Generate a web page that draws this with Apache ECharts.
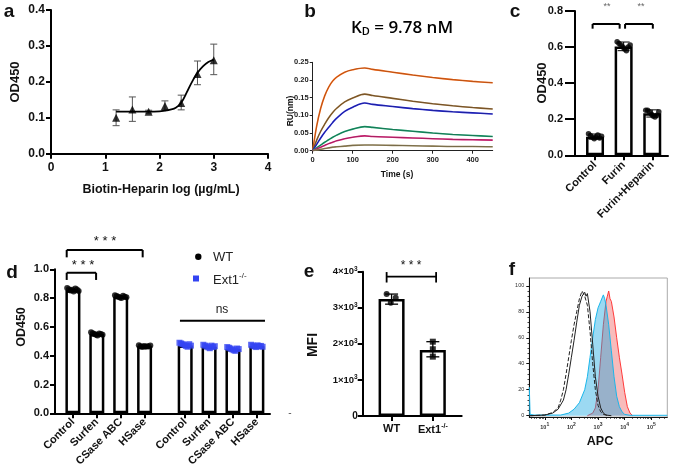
<!DOCTYPE html>
<html><head><meta charset="utf-8">
<script src="https://cdn.jsdelivr.net/npm/echarts@6/dist/echarts.min.js"></script>
<style>html,body{margin:0;padding:0;background:#fff}#c{width:676px;height:473px}</style>
</head><body><div id="c"></div>
<script>
// ===== DATA =====
// panel a
const aLogConc = [1.2, 1.5, 1.8, 2.1, 2.4, 2.7, 3.0];
const aMean = [0.100, 0.123, 0.117, 0.133, 0.141, 0.222, 0.260];
const aLow  = [0.078, 0.090, 0.113, 0.120, 0.122, 0.192, 0.220];
const aHigh = [0.122, 0.158, 0.121, 0.147, 0.163, 0.258, 0.305];
const aFitX = [1.2, 1.5, 1.8, 2.0, 2.1, 2.2, 2.3, 2.4, 2.5, 2.6, 2.7, 2.8, 2.9, 3.0];
const aFitY = [0.117, 0.117, 0.117, 0.118, 0.120, 0.123, 0.128, 0.142, 0.170, 0.200, 0.225, 0.243, 0.255, 0.262];
const aXTicks = [0, 1, 2, 3, 4];
const aYTicks = [0, 0.1, 0.2, 0.3, 0.4];
// panel b (time in s, response in nm)
const bTime    = [0, 10, 20, 30, 40, 50, 60, 80, 100, 130, 150, 200, 250, 300, 350, 400, 450];
const bOrange  = [0, 0.070, 0.120, 0.155, 0.180, 0.197, 0.208, 0.222, 0.229, 0.234, 0.230, 0.222, 0.214, 0.207, 0.201, 0.196, 0.192];
const bBrown   = [0, 0.030, 0.055, 0.075, 0.093, 0.108, 0.120, 0.138, 0.149, 0.160, 0.156, 0.148, 0.140, 0.133, 0.127, 0.122, 0.118];
const bBlue    = [0, 0.018, 0.036, 0.052, 0.066, 0.080, 0.092, 0.111, 0.123, 0.135, 0.131, 0.125, 0.119, 0.114, 0.110, 0.107, 0.104];
const bGreen   = [0, 0.008, 0.016, 0.024, 0.031, 0.038, 0.044, 0.054, 0.061, 0.068, 0.066, 0.060, 0.055, 0.050, 0.046, 0.043, 0.040];
const bMagenta = [0, 0.005, 0.010, 0.015, 0.020, 0.024, 0.028, 0.034, 0.038, 0.042, 0.040, 0.038, 0.036, 0.034, 0.032, 0.031, 0.030];
const bTan     = [0, 0.002, 0.004, 0.006, 0.008, 0.010, 0.011, 0.013, 0.015, 0.016, 0.016, 0.015, 0.014, 0.013, 0.012, 0.012, 0.011];
const bXTicks = [0, 100, 200, 300, 400];
const bYTicks = [0, 0.05, 0.10, 0.15, 0.20, 0.25];
// panel c
const cNames = ['Control', 'Furin', 'Furin+Heparin'];
const cMeans = [0.103, 0.603, 0.233];
const cLow   = [0.090, 0.580, 0.212];
const cHigh  = [0.118, 0.628, 0.252];
const cControlDots = [0.120, 0.110, 0.100, 0.092, 0.100, 0.112, 0.096, 0.106];
const cFurinDots   = [0.630, 0.620, 0.610, 0.600, 0.590, 0.580, 0.600, 0.612];
const cFHDots      = [0.250, 0.250, 0.240, 0.228, 0.218, 0.212, 0.222, 0.242];
const cYTicks = [0, 0.2, 0.4, 0.6, 0.8];
// panel d
const dNames = ['Control', 'Surfen', 'CSase ABC', 'HSase'];
const dWTMeans   = [0.855, 0.550, 0.810, 0.465];
const dExt1Means = [0.470, 0.463, 0.447, 0.465];
const dWTDots = [
  [0.870, 0.862, 0.852, 0.858, 0.846, 0.866, 0.860, 0.850],
  [0.562, 0.556, 0.550, 0.546, 0.540, 0.555, 0.550, 0.545],
  [0.820, 0.815, 0.810, 0.805, 0.800, 0.816, 0.810, 0.806],
  [0.472, 0.466, 0.460, 0.468, 0.462, 0.466, 0.464, 0.470]
];
const dExt1Dots = [
  [0.490, 0.485, 0.480, 0.475, 0.468, 0.462, 0.480, 0.470],
  [0.476, 0.470, 0.465, 0.458, 0.452, 0.470, 0.460, 0.466],
  [0.460, 0.455, 0.450, 0.444, 0.438, 0.434, 0.450, 0.446],
  [0.476, 0.470, 0.465, 0.460, 0.472, 0.466, 0.468, 0.462]
];
const dYTicks = [0, 0.2, 0.4, 0.6, 0.8, 1.0];
// panel e
const eNames = ['WT', 'Ext1'];
const eMeans = [3240, 1830];
const eLow   = [3100, 1640];
const eHigh  = [3380, 2060];
const eWTDots   = [3381, 3280, 3140];
const eExt1Dots = [2060, 1850, 1645];
const eYTicks = [0, 1000, 2000, 3000, 4000];
// panel f (x = log10 APC intensity, y = % of max)
const fCyan  = [[0.42,22],[0.45,1],[0.6,0.5],[1.6,0.5],[1.9,2],[2.1,5],[2.3,10],[2.5,20],[2.6,30],[2.7,45],[2.8,60],[2.9,74],[3.0,83],[3.1,88],[3.2,93],[3.25,90],[3.3,85],[3.4,70],[3.5,50],[3.6,30],[3.7,15],[3.8,7],[3.9,3],[4.0,1],[4.2,0.3],[5.6,0.3]];
const fRed   = [[2.6,0],[2.8,2],[2.9,6],[3.0,20],[3.1,45],[3.2,70],[3.3,88],[3.35,92],[3.4,96],[3.45,90],[3.5,88],[3.6,76],[3.7,60],[3.8,45],[3.9,32],[4.0,18],[4.1,7],[4.2,2],[4.3,0]];
const fBlack = [[0.45,0],[1.0,0.5],[1.3,2],[1.5,5],[1.7,12],[1.8,20],[1.9,32],[2.0,45],[2.1,58],[2.2,72],[2.3,85],[2.4,92],[2.5,95],[2.55,92],[2.6,94],[2.7,80],[2.8,55],[2.9,30],[3.0,15],[3.1,6],[3.2,2],[3.3,0.5],[3.5,0]];
const fDashed= [[0.45,0],[1.0,0.5],[1.3,2.5],[1.5,6],[1.6,12],[1.7,20],[1.8,32],[1.9,45],[2.0,58],[2.1,70],[2.2,80],[2.3,90],[2.4,96],[2.5,92],[2.6,85],[2.7,65],[2.8,40],[2.9,20],[3.0,8],[3.1,3],[3.2,1],[3.4,0]];
const fXTicks = [1, 2, 3, 4, 5];
const fYTicks = [0, 20, 40, 60, 80, 100];

// ===== LAYOUT / STYLE =====
const FONT = '"Liberation Sans", Arial, sans-serif';
const cPos = [1, 2, 3];
const dPos = [1, 2, 3, 4, 5.7, 6.7, 7.7, 8.7];
const ePos = [1, 2];
const jit8 = [-0.24, -0.17, -0.1, -0.03, 0.03, 0.1, 0.17, 0.24];
const eJit = [-0.12, 0.1, -0.02];

function vAxis(grid, min, max, ticks, fmt, extra) {
  const o = {
    type: 'value', gridIndex: grid, min: min, max: max,
    splitLine: {show: false},
    axisLine: {show: true, onZero: false, lineStyle: {color: '#000', width: 2}},
    axisTick: {show: true, length: 5, customValues: ticks, lineStyle: {color: '#000', width: 2}},
    axisLabel: {show: true, customValues: ticks, formatter: fmt, color: '#111', fontFamily: FONT, fontWeight: 'bold', fontSize: 11, margin: 7}
  };
  if (extra) {
    for (const k in extra) {
      if (typeof extra[k] === 'object' && o[k] && !Array.isArray(extra[k])) o[k] = Object.assign({}, o[k], extra[k]);
      else o[k] = extra[k];
    }
  }
  return o;
}

function errSeries(xi, yi, data, cap, color, lw, z) {
  return {
    type: 'custom', xAxisIndex: xi, yAxisIndex: yi, data: data, silent: true, z: z || 4,
    encode: {x: 0, y: [1, 2]},
    renderItem: function (p, api) {
      const x = api.value(0), a = api.coord([x, api.value(1)]), b = api.coord([x, api.value(2)]);
      const st = {stroke: color, lineWidth: lw};
      return {type: 'group', children: [
        {type: 'line', shape: {x1: a[0], y1: a[1], x2: b[0], y2: b[1]}, style: st},
        {type: 'line', shape: {x1: a[0] - cap, y1: a[1], x2: a[0] + cap, y2: a[1]}, style: st},
        {type: 'line', shape: {x1: b[0] - cap, y1: b[1], x2: b[0] + cap, y2: b[1]}, style: st}
      ]};
    }
  };
}
function segSeries(xi, yi, segs, color, lw) {
  return {
    type: 'custom', xAxisIndex: xi, yAxisIndex: yi, data: segs, silent: true, z: 5, clip: false,
    encode: {x: [0, 2], y: [1, 3]},
    renderItem: function (p, api) {
      const a = api.coord([api.value(0), api.value(1)]), b = api.coord([api.value(2), api.value(3)]);
      return {type: 'line', shape: {x1: a[0], y1: a[1], x2: b[0], y2: b[1]}, style: {stroke: color, lineWidth: lw}};
    }
  };
}
function bracket(x1, x2, yTop, yBot) {
  return [[x1, yBot, x1, yTop], [x1, yTop, x2, yTop], [x2, yTop, x2, yBot]];
}
function dotsData(pos, groups, jit) {
  const out = [];
  groups.forEach((g, i) => g.forEach((v, j) => out.push([pos[i] + jit[j], v])));
  return out;
}
function nameAt(pos, names) {
  return function (v) {
    for (let i = 0; i < pos.length; i++) if (Math.abs(pos[i] - v) < 1e-6) return names[i];
    return '';
  };
}

const grids = [
  {left: 51, top: 10, width: 217, height: 143.7},
  {left: 312.7, top: 62.3, width: 180, height: 88.4},
  {left: 575, top: 11, width: 93, height: 144.3},
  {left: 55, top: 269.3, width: 215, height: 144},
  {left: 362.7, top: 271.7, width: 99, height: 144.3},
  {left: 529.3, top: 278, width: 138, height: 139, show: true, borderColor: '#aaa', borderWidth: 1}
];

const thin = {axisLine: {lineStyle: {color: '#222', width: 1}}, axisTick: {length: 3, lineStyle: {color: '#222', width: 1}}};

const fMinor = [];
for (let d = 0; d <= 5; d++) for (let m = 2; m <= 9; m++) { const v = d + Math.log10(m); if (v > 0.42 && v < 5.6) fMinor.push(v); }

const xAxes = [
  vAxis(0, 0, 4, aXTicks, v => String(v), {axisLabel: {fontSize: 12, margin: 8}}),
  vAxis(1, 0, 450, bXTicks, v => String(v), {
    axisLine: thin.axisLine, axisTick: thin.axisTick,
    axisLabel: {fontSize: 7.5, margin: 5, color: '#222'}
  }),
  vAxis(2, 0.3, 3.55, cPos, nameAt(cPos, cNames), {axisLabel: {rotate: 45, fontSize: 11, margin: 8}}),
  vAxis(3, 0.25, 9.25, dPos, nameAt(dPos, dNames.concat(dNames)), {axisLabel: {rotate: 45, fontSize: 11, margin: 7}}),
  vAxis(4, 0.3, 2.7, ePos, v => v === 1 ? 'WT' : '{n|Ext1}{s|-/-}', {axisLabel: {fontSize: 11, margin: 7,
    rich: {n: {fontSize: 11, fontWeight: 'bold', fontFamily: FONT, color: '#111'}, s: {fontSize: 7, fontWeight: 'bold', fontFamily: FONT, color: '#111', verticalAlign: 'top', padding: [0, 0, 6, 0]}}}}),
  vAxis(5, 0.42, 5.6, fXTicks, v => '{n|10}{s|' + v + '}', {
    position: 'bottom',
    axisLine: {lineStyle: {color: '#111', width: 1}}, axisTick: {length: 3, lineStyle: {color: '#111', width: 1}},
    axisLabel: {margin: 5, rich: {n: {fontSize: 5.5, color: '#333', fontFamily: FONT}, s: {fontSize: 5, color: '#333', fontFamily: FONT, verticalAlign: 'top', padding: [0, 0, 6, 0]}}}
  }),
  vAxis(5, 0.42, 5.6, fMinor, v => '', {
    position: 'bottom', offset: 0,
    axisLine: {show: false}, axisTick: {length: 1.8, lineStyle: {color: '#111', width: 0.8}}, axisLabel: {show: false}
  })
];

const fYMinor = [];
for (let v = 4; v < 100; v += 4) if (v % 20) fYMinor.push(v);

const yAxes = [
  vAxis(0, 0, 0.4, aYTicks, v => v.toFixed(1), {axisLabel: {fontSize: 12, margin: 6}}),
  vAxis(1, 0, 0.25, bYTicks, v => v.toFixed(2), {
    axisLine: thin.axisLine, axisTick: thin.axisTick,
    axisLabel: {fontSize: 7.5, margin: 4, color: '#222'}
  }),
  vAxis(2, 0, 0.8, cYTicks, v => v.toFixed(1), {axisTick: {length: 10}, axisLabel: {fontSize: 11, margin: 12}}),
  vAxis(3, 0, 1.0, dYTicks, v => v.toFixed(1), {axisLabel: {fontSize: 11, margin: 6}}),
  vAxis(4, 0, 4000, eYTicks, v => v === 0 ? '0' : '{n|' + (v / 1000) + '×10}{s|3}', {axisLabel: {fontSize: 10, margin: 5,
    rich: {n: {fontSize: 9.5, fontWeight: 'bold', fontFamily: FONT, color: '#111'}, s: {fontSize: 6.5, fontWeight: 'bold', fontFamily: FONT, color: '#111', verticalAlign: 'top', padding: [0, 0, 5, 0]}}}}),
  vAxis(5, -1, 106, fYTicks, v => String(v), {
    position: 'left',
    axisLine: {lineStyle: {color: '#111', width: 1}}, axisTick: {length: 3, lineStyle: {color: '#111', width: 1}},
    axisLabel: {fontSize: 5.5, color: '#333', margin: 5, fontWeight: 'normal'}
  }),
  vAxis(5, -1, 106, fYMinor, v => '', {
    position: 'left', offset: 0,
    axisLine: {show: false}, axisTick: {length: 1.8, lineStyle: {color: '#111', width: 0.8}}, axisLabel: {show: false}
  })
];

const series = [];
// ---- a ----
series.push({type: 'line', xAxisIndex: 0, yAxisIndex: 0, data: aFitX.map((x, i) => [x, aFitY[i]]), smooth: true, showSymbol: false, lineStyle: {color: '#000', width: 1.8}, silent: true, z: 3});
series.push(errSeries(0, 0, aLogConc.map((x, i) => [x, aLow[i], aHigh[i]]), 3.5, '#555', 1, 2));
series.push({type: 'scatter', xAxisIndex: 0, yAxisIndex: 0, data: aLogConc.map((x, i) => [x, aMean[i]]), symbol: 'triangle', symbolSize: 8, itemStyle: {color: '#000'}, z: 4});
// ---- b ----
const bCols = [['#ff6a13', bOrange], ['#9a6a2e', bBrown], ['#1f22d8', bBlue], ['#14a06c', bGreen], ['#e2207c', bMagenta], ['#9e8c5c', bTan]];
bCols.forEach(([col, arr]) => {
  series.push({type: 'line', xAxisIndex: 1, yAxisIndex: 1, data: bTime.map((t, i) => [t, arr[i]]), smooth: 0.35, showSymbol: false, lineStyle: {color: col, width: 1.6}, silent: true});
  series.push({type: 'line', xAxisIndex: 1, yAxisIndex: 1, data: bTime.map((t, i) => [t, arr[i]]), smooth: 0.35, showSymbol: false, lineStyle: {color: '#222', width: 0.6, opacity: 0.55}, silent: true});
});
// ---- c ----
series.push({type: 'bar', xAxisIndex: 2, yAxisIndex: 2, data: cPos.map((x, i) => [x, cMeans[i]]), barWidth: 18, itemStyle: {color: '#fff', borderColor: '#000', borderWidth: 2.5}, z: 2});
series.push({type: 'scatter', xAxisIndex: 2, yAxisIndex: 2, data: dotsData(cPos, [cControlDots, cFurinDots, cFHDots], jit8.map(j => j * 0.95)), symbolSize: 5.5, itemStyle: {color: '#000'}, z: 3});
series.push(errSeries(2, 2, cPos.map((x, i) => [x, cLow[i], cHigh[i]]), 6, '#000', 1, 4));
series.push(segSeries(2, 2, bracket(0.915, 1.86, 0.728, 0.702).concat(bracket(2.05, 3.02, 0.728, 0.702)), '#000', 2));
// ---- d ----
series.push({type: 'bar', xAxisIndex: 3, yAxisIndex: 3, data: dPos.map((x, i) => [x, i < 4 ? dWTMeans[i] : dExt1Means[i - 4]]), barWidth: 15, itemStyle: {color: '#fff', borderColor: '#000', borderWidth: 2.5}, z: 2});
series.push({type: 'scatter', xAxisIndex: 3, yAxisIndex: 3, data: dotsData(dPos.slice(0, 4), dWTDots, jit8), symbolSize: 6, itemStyle: {color: '#000'}, z: 3});
series.push({type: 'scatter', xAxisIndex: 3, yAxisIndex: 3, data: dotsData(dPos.slice(4), dExt1Dots, jit8), symbol: 'rect', symbolSize: 6, itemStyle: {color: '#3344f2'}, z: 3});
series.push(segSeries(3, 3, bracket(0.74, 3.92, 1.134, 1.083).concat(bracket(0.74, 1.97, 0.976, 0.926)), '#000', 2));
series.push(segSeries(3, 3, [[5.48, 0.643, 9.04, 0.643]], '#000', 2));
// ---- e ----
series.push({type: 'bar', xAxisIndex: 4, yAxisIndex: 4, data: ePos.map((x, i) => [x, eMeans[i]]), barWidth: 26, itemStyle: {color: '#fff', borderColor: '#000', borderWidth: 2.5}, z: 2});
series.push(errSeries(4, 4, ePos.map((x, i) => [x, eLow[i], eHigh[i]]), 6.5, '#000', 1.3, 4));
series.push({type: 'scatter', xAxisIndex: 4, yAxisIndex: 4, data: eWTDots.map((v, j) => [ePos[0] + eJit[j], v]), symbolSize: 6, itemStyle: {color: '#000'}, z: 5});
series.push({type: 'scatter', xAxisIndex: 4, yAxisIndex: 4, data: eExt1Dots.map(v => [ePos[1], v]), symbol: 'rect', symbolSize: 6, itemStyle: {color: '#000'}, z: 5});
series.push(segSeries(4, 4, [[0.88, 3861, 2.08, 3861], [0.88, 3990, 0.88, 3700], [2.08, 3990, 2.08, 3700]], '#000', 1.8));
// ---- f ----
series.push({type: 'line', xAxisIndex: 5, yAxisIndex: 5, data: fRed, showSymbol: false, lineStyle: {color: '#ff3a3a', width: 1}, areaStyle: {color: 'rgba(238,92,92,0.6)'}, silent: true, z: 2});
series.push({type: 'line', xAxisIndex: 5, yAxisIndex: 5, data: fCyan, showSymbol: false, lineStyle: {color: '#19b6ea', width: 1}, areaStyle: {color: 'rgba(20,165,225,0.6)'}, silent: true, z: 3});
series.push({type: 'line', xAxisIndex: 5, yAxisIndex: 5, data: fDashed, showSymbol: false, lineStyle: {color: '#222', width: 1, type: [4, 2]}, silent: true, z: 4});
series.push({type: 'line', xAxisIndex: 5, yAxisIndex: 5, data: fBlack, showSymbol: false, lineStyle: {color: '#222', width: 1}, silent: true, z: 4});

function txt(x, y, text, size, opts) {
  return {type: 'text', x: x, y: y, silent: true, z: 10, style: Object.assign({text: text, fontSize: size, fontFamily: FONT, fontWeight: 'bold', fill: '#111', align: 'center', verticalAlign: 'middle'}, opts || {})};
}
function rtxt(x, y, text, size) {
  const t = txt(x, y, text, size); t.rotation = Math.PI / 2; return t;
}

const graphic = [
  txt(9, 12, 'a', 19), txt(310, 12, 'b', 19), txt(515, 12, 'c', 19),
  txt(12, 273, 'd', 19), txt(309, 272, 'e', 19), txt(512, 270, 'f', 19),
  rtxt(15, 82, 'OD450', 13),
  txt(161, 190, 'Biotin-Heparin log (µg/mL)', 12.5),
  {type: 'text', x: 402, y: 28, z: 10, silent: true, style: {text: '{k|K}{d|D}{n| = 9.78 nM}', align: 'center', verticalAlign: 'middle',
    rich: {k: {fontSize: 17, fontWeight: 600, fontFamily: '"Open Sans", sans-serif', fill: '#000'}, d: {fontSize: 11, fontWeight: 600, fontFamily: '"Open Sans", sans-serif', fill: '#000', verticalAlign: 'bottom', padding: [8, 0, 0, 0]}, n: {fontSize: 17, fontWeight: 600, fontFamily: '"Open Sans", sans-serif', fill: '#000'}}}},
  rtxt(291, 111, 'RU(nm)', 8.5),
  txt(397, 175, 'Time (s)', 8.5),
  rtxt(542, 83, 'OD450', 13),
  txt(607, 7, '**', 9, {fontWeight: 'normal', fill: '#666'}),
  txt(641, 7, '**', 9, {fontWeight: 'normal', fill: '#666'}),
  rtxt(22, 327, 'OD450', 12.5),
  txt(105, 241, '* * *', 13, {fontWeight: 'normal'}),
  txt(83, 265, '* * *', 13, {fontWeight: 'normal'}),
  txt(222, 310, 'ns', 12, {fontWeight: 'normal', fill: '#222'}),
  {type: 'circle', shape: {cx: 198.3, cy: 256.7, r: 3.2}, style: {fill: '#000'}, z: 10, silent: true},
  txt(213, 257, 'WT', 13, {fontWeight: 'normal', align: 'left', fill: '#222'}),
  {type: 'rect', shape: {x: 193, y: 275.5, width: 6, height: 6}, style: {fill: '#3344f2'}, z: 10, silent: true},
  {type: 'text', x: 213, y: 280, z: 10, silent: true, style: {text: '{n|Ext1}{s|-/-}', align: 'left', verticalAlign: 'middle',
    rich: {n: {fontSize: 13, fontFamily: FONT, fill: '#222'}, s: {fontSize: 8, fontFamily: FONT, fill: '#222', verticalAlign: 'top', padding: [0, 0, 8, 0]}}}},
  txt(290, 413, '-', 10, {fontWeight: 'normal', fill: '#555'}),
  rtxt(313, 345, 'MFI', 14),
  txt(411, 266, '* * *', 12, {fontWeight: 'normal'}),
  txt(600, 442, 'APC', 12.5)
];

const chart = echarts.init(document.getElementById('c'), null, {renderer: 'canvas'});
chart.setOption({
  animation: false, backgroundColor: '#fff',
  grid: grids, xAxis: xAxes, yAxis: yAxes, series: series, graphic: graphic
});
</script></body></html>
